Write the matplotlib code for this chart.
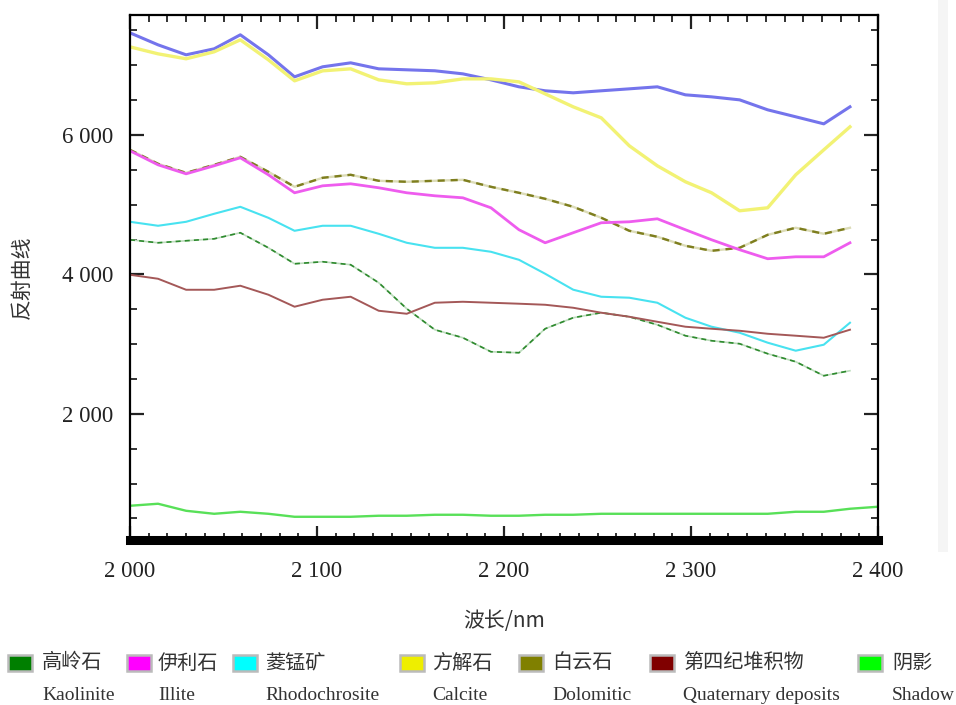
import numpy as np
import matplotlib
matplotlib.use("Agg")
from matplotlib import pyplot as plt
from matplotlib.patches import Rectangle
from matplotlib.ticker import FuncFormatter, MultipleLocator

plt.rcParams['font.family'] = ['Liberation Serif', 'Noto Sans CJK SC', 'DejaVu Sans']

wavelength = [2000, 2015, 2030, 2045, 2059, 2074, 2088, 2103, 2118, 2133, 2148, 2163, 2178, 2193,
              2208, 2222, 2237, 2252, 2267, 2282, 2297, 2311, 2326, 2341, 2356, 2371, 2385]
wavelength_shadow = wavelength + [2400]

blue = [7464, 7292, 7149, 7235, 7436, 7149, 6833, 6977, 7034, 6948, 6934, 6920, 6876, 6790,
        6690, 6633, 6604, 6633, 6661, 6690, 6575, 6546, 6503, 6360, 6260, 6159, 6403]
calcite = [7263, 7163, 7092, 7192, 7364, 7077, 6776, 6919, 6948, 6790, 6733, 6747, 6804, 6804,
           6761, 6589, 6403, 6245, 5844, 5557, 5328, 5170, 4912, 4955, 5428, 5786, 6116]
illite = [5772, 5571, 5442, 5557, 5672, 5428, 5170, 5270, 5299, 5242, 5170, 5127, 5098, 4955,
          4640, 4453, 4597, 4740, 4754, 4797, 4640, 4496, 4353, 4224, 4252, 4252, 4453]
dolomitic = [5786, 5586, 5456, 5571, 5686, 5471, 5256, 5385, 5428, 5342, 5328, 5342, 5356, 5256,
             5170, 5084, 4969, 4812, 4625, 4539, 4410, 4338, 4381, 4567, 4668, 4582, 4668]
rhodochrosite = [4754, 4697, 4754, 4869, 4969, 4811, 4625, 4697, 4697, 4582, 4453, 4381, 4381, 4324,
                 4209, 4009, 3780, 3679, 3665, 3593, 3378, 3249, 3163, 3020, 2905, 2991, 3306]
kaolinite = [4496, 4453, 4482, 4510, 4597, 4381, 4152, 4181, 4138, 3880, 3507, 3206, 3091, 2890,
             2876, 3220, 3378, 3450, 3392, 3277, 3120, 3048, 3005, 2862, 2747, 2546, 2618]
quaternary = [3994, 3937, 3779, 3779, 3837, 3708, 3536, 3636, 3679, 3478, 3435, 3593, 3607, 3593,
              3579, 3564, 3521, 3450, 3392, 3320, 3249, 3220, 3191, 3148, 3120, 3091, 3206]
shadow = [681, 710, 609, 566, 595, 566, 523, 523, 523, 538, 538, 552, 552, 538,
          538, 552, 552, 566, 566, 566, 566, 566, 566, 566, 595, 595, 638, 667]

legend_cn = ['高岭石', '伊利石', '菱锰矿', '方解石', '白云石', '第四纪堆积物', '阴影']
legend_en = ['Kaolinite', 'Illite', 'Rhodochrosite', 'Calcite', 'Dolomitic', 'Quaternary deposits', 'Shadow']
legend_colors = ['#007f00', '#ff00ff', '#00ffff', '#eeee00', '#808000', '#800000', '#00ff00']

W, H = 956, 705
fig = plt.figure(figsize=(W / 100, H / 100), dpi=100)
ax = fig.add_axes([130 / W, 1 - 540 / H, 748 / W, 525 / H])

# faint strip at the right edge of the scanned figure
fig.patches.append(Rectangle((938 / W, 1 - 552 / H), 10 / W, 552 / H, transform=fig.transFigure,
                             facecolor='#f5f5f5', edgecolor='none', zorder=0))

ax.plot(wavelength, blue, color='#7474ec', lw=2.2, solid_joinstyle='round')
ax.plot(wavelength, calcite, color='#f2f274', lw=2.4, solid_joinstyle='round')
ax.plot(wavelength, dolomitic, color='#dcdcb8', lw=1.7)
ax.plot(wavelength, dolomitic, color='#7e7e1e', lw=1.7, dashes=(3, 2.5))
ax.plot(wavelength, illite, color='#ee5cee', lw=2.0, solid_joinstyle='round')
ax.plot(wavelength, rhodochrosite, color='#48e2f0', lw=1.5)
ax.plot(wavelength, kaolinite, color='#bcdcbc', lw=1.2)
ax.plot(wavelength, kaolinite, color='#2e8a2e', lw=1.2, dashes=(3, 2.5))
ax.plot(wavelength, quaternary, color='#a45858', lw=1.4)
ax.plot(wavelength_shadow, shadow, color='#58e058', lw=1.7)

ax.set_xlim(2000, 2400)
ax.set_ylim(190, 7720)
ax.xaxis.set_major_locator(MultipleLocator(100))
ax.xaxis.set_minor_locator(MultipleLocator(10))
ax.yaxis.set_major_locator(MultipleLocator(2000))
ax.yaxis.set_minor_locator(MultipleLocator(500))
fmt = FuncFormatter(lambda v, p: f"{int(v):,}".replace(",", " "))
ax.xaxis.set_major_formatter(fmt)
ax.yaxis.set_major_formatter(fmt)
ax.tick_params(which='both', direction='in', top=True, right=True, labelsize=16.5, colors='#222222')
ax.tick_params(which='major', length=10, width=1.6)
ax.tick_params(which='minor', length=5, width=1.3)
ax.tick_params(axis='x', pad=15)
ax.tick_params(axis='y', pad=12)

for side in ['left', 'top', 'right']:
    ax.spines[side].set_linewidth(1.6)
ax.spines['bottom'].set_linewidth(6.5)

ax.set_xlabel('波长/nm', fontsize=15, family=['Noto Sans CJK SC', 'Liberation Serif'], labelpad=20, color='#333333')
ax.set_ylabel('反射曲线', fontsize=15, family=['Noto Sans CJK SC'], labelpad=21, color='#333333')

patch_x = [8, 127, 233, 400, 519, 650, 858]
text_x = [42, 158, 265, 432, 552, 683, 892]
for px, tx, cn, en, c in zip(patch_x, text_x, legend_cn, legend_en, legend_colors):
    fig.patches.append(Rectangle((px / W, 1 - 671 / H), 24 / W, 16 / H, transform=fig.transFigure,
                                 facecolor=c, edgecolor='#bbbbbb', lw=1.8))
    fig.text(tx / W, 1 - 663 / H, cn, fontsize=14.5, family=['Noto Sans CJK SC'], va='center', color='#333333')
    fig.text(tx / W, 1 - 695 / H, en, fontsize=14, va='center', color='#333333')

fig.savefig('out.png', dpi=100)
